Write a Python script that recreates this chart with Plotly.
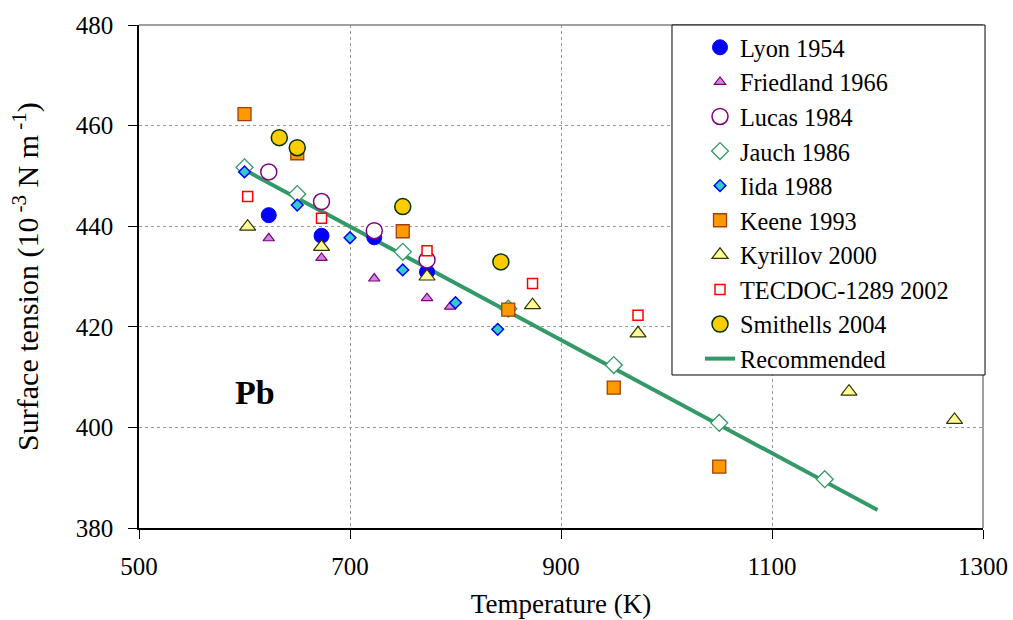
import plotly.graph_objects as go

# ---- data ----
lyon_T = [623, 673, 723, 773]
lyon_s = [442.2, 438.1, 437.8, 430.9]

friedland_T = [623, 673, 723, 773, 795]
friedland_s = [437.6, 433.7, 429.6, 425.7, 424.0]

lucas_T = [623, 673, 723, 773]
lucas_s = [450.8, 444.9, 439.1, 433.3]

jauch_T = [600, 650, 750, 850, 950, 1050, 1150]
jauch_s = [451.7, 446.4, 434.9, 423.6, 412.4, 400.9, 389.7]

iida_T = [600, 650, 700, 750, 800, 840]
iida_s = [450.8, 444.2, 437.7, 431.3, 424.8, 419.5]

keene_T = [600, 650, 750, 850, 950, 1050]
keene_s = [462.3, 454.5, 439.0, 423.4, 407.9, 392.2]

kyrillov_T = [603, 673, 773, 873, 973, 1173, 1273]
kyrillov_s = [439.9, 435.9, 430.0, 424.3, 418.7, 407.1, 401.5]

tecdoc_T = [603, 673, 773, 873, 973]
tecdoc_s = [445.9, 441.6, 435.1, 428.6, 422.3]

smithells_T = [633, 650, 750, 843]
smithells_s = [457.6, 455.6, 443.9, 432.9]

recommended_T = [600, 1200]
recommended_s = [451.2, 383.6]

x_ticks = [500, 700, 900, 1100, 1300]
y_ticks = [380, 400, 420, 440, 460, 480]

FONT = "Liberation Serif"

fig = go.Figure()

# recommended line drawn first (underneath markers)
fig.add_trace(go.Scatter(
    x=recommended_T, y=recommended_s, mode="lines", name="Recommended",
    line=dict(color="#339966", width=4), legendgroup="g10", legendrank=10))

series = [
    ("Lyon 1954", lyon_T, lyon_s, dict(symbol="circle", size=15, color="#0000FF",
                                       line=dict(color="#0000FF", width=1))),
    ("Friedland 1966", friedland_T, friedland_s, dict(symbol="triangle-up", size=10, color="#CC88E0",
                                                      line=dict(color="#800080", width=1.2))),
    ("Lucas 1984", lucas_T, lucas_s, dict(symbol="circle", size=16, color="white",
                                          line=dict(color="#800080", width=1.5))),
    ("Jauch 1986", jauch_T, jauch_s, dict(symbol="diamond", size=13, color="white",
                                          line=dict(color="#339966", width=1.3))),
    ("Iida 1988", iida_T, iida_s, dict(symbol="diamond", size=9, color="#33CCCC",
                                       line=dict(color="#0000FF", width=1.5))),
    ("Keene 1993", keene_T, keene_s, dict(symbol="square", size=13, color="#FF9900",
                                          line=dict(color="#A0400A", width=1.3))),
    ("Kyrillov 2000", kyrillov_T, kyrillov_s, dict(symbol="triangle-up", size=14, color="#FFFF99",
                                                   line=dict(color="#333300", width=1.2))),
    ("TECDOC-1289 2002", tecdoc_T, tecdoc_s, dict(symbol="square", size=10, color="white",
                                                  line=dict(color="#FF0000", width=1.5))),
    ("Smithells 2004", smithells_T, smithells_s, dict(symbol="circle", size=16, color="#FFCC00",
                                                      line=dict(color="#003300", width=1.5))),
]
for i, (name, xs, ys, mk) in enumerate(series):
    fig.add_trace(go.Scatter(x=xs, y=ys, mode="markers", name=name, marker=mk,
                             legendgroup=f"g{i}", legendrank=i + 1))

fig.add_annotation(x=610, y=407, xref="x", yref="y", text="<b>Pb</b>", showarrow=False,
                   font=dict(family=FONT, size=34, color="black"))

# grey top/right frame
fig.add_shape(type="line", xref="paper", yref="paper", x0=0, x1=1, y0=1, y1=1,
              line=dict(color="#808080", width=1.5))
fig.add_shape(type="line", xref="paper", yref="paper", x0=1, x1=1, y0=0, y1=1,
              line=dict(color="#808080", width=1.5))
# legend box (white, black border) drawn above the data, legend text sits on top
fig.add_shape(type="rect", xref="paper", yref="paper", x0=0.6315, x1=1.0024,
              y0=0.3042, y1=1.0, layer="above",
              fillcolor="white", line=dict(color="black", width=1))

TICKFONT = dict(family=FONT, size=25, color="black")

fig.update_layout(
    width=1013, height=620,
    margin=dict(l=139, r=30, t=25, b=92, autoexpand=False),
    paper_bgcolor="white", plot_bgcolor="white",
    font=dict(family=FONT, size=25, color="black"),
    showlegend=True,
    legend=dict(x=0.6647, y=1.0, xanchor="left", yanchor="top",
                bgcolor="rgba(0,0,0,0)", borderwidth=0,
                font=dict(family=FONT, size=24.3, color="black"),
                traceorder="grouped", tracegroupgap=0, itemwidth=30),
    xaxis=dict(range=[500, 1300], tickvals=x_ticks, showline=True, linecolor="black",
               linewidth=1.5, ticks="outside", ticklen=9, tickcolor="black",
               ticklabelstandoff=6, tickfont=TICKFONT,
               showgrid=True, gridcolor="#999999", griddash="dot", gridwidth=1,
               zeroline=False,
               title=dict(text="Temperature (K)", font=dict(family=FONT, size=27), standoff=15)),
    yaxis=dict(range=[380, 480], tickvals=y_ticks, showline=True, linecolor="black",
               linewidth=1.5, ticks="outside", ticklen=9, tickcolor="black",
               ticklabelstandoff=10, tickfont=TICKFONT,
               showgrid=True, gridcolor="#999999", griddash="dot", gridwidth=1,
               zeroline=False,
               title=dict(text="Surface tension (10<sup> -3</sup> N m<sup> -1</sup>)",
                          font=dict(family=FONT, size=30), standoff=28)),
)

fig.write_html("out.html")
